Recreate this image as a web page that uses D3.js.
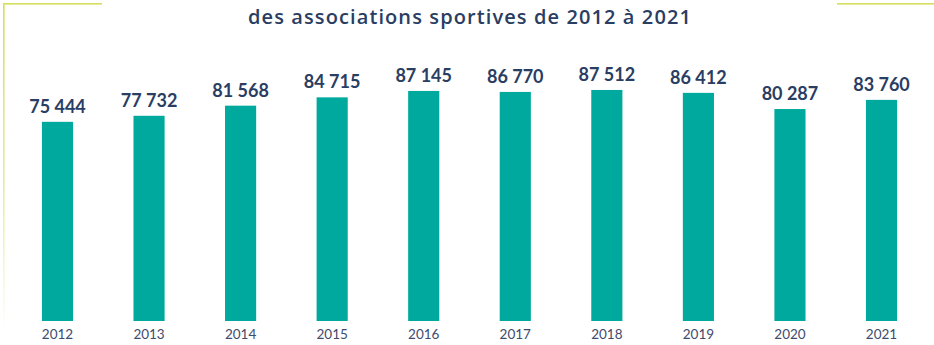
<!DOCTYPE html>
<html>
<head>
<meta charset="utf-8">
<script src="https://cdn.jsdelivr.net/npm/d3@7"></script>
<style>
  html, body { margin: 0; padding: 0; background: #fff; }
  svg { display: block; }
</style>
</head>
<body>
<svg id="chart" width="934" height="345"></svg>
<script>
// Nombre d'associations sportives par année
const years = ["2012", "2013", "2014", "2015", "2016", "2017", "2018", "2019", "2020", "2021"];
const associations = [75444, 77732, 81568, 84715, 87145, 86770, 87512, 86412, 80287, 83760];
const titleText = "des associations sportives de 2012 à 2021";

const W = 934, H = 345;
const svg = d3.select("#chart");

const navy = "#2a3d62";
const teal = "#00a99d";
const lime = "#d5df5c";

// Cadre décoratif : coins en haut à gauche et à droite
const defs = svg.append("defs");
const grad = defs.append("linearGradient")
  .attr("id", "fadeDown").attr("x1", 0).attr("y1", 0).attr("x2", 0).attr("y2", 1);
grad.append("stop").attr("offset", "0%").attr("stop-color", lime).attr("stop-opacity", 1);
grad.append("stop").attr("offset", "55%").attr("stop-color", lime).attr("stop-opacity", 0.6);
grad.append("stop").attr("offset", "100%").attr("stop-color", lime).attr("stop-opacity", 0);

svg.append("rect").attr("x", 3).attr("y", 3).attr("width", 99).attr("height", 1.6).attr("fill", lime);
svg.append("rect").attr("x", 3).attr("y", 3).attr("width", 1.6).attr("height", 330).attr("fill", "url(#fadeDown)");
svg.append("rect").attr("x", 837).attr("y", 3).attr("width", 97).attr("height", 1.6).attr("fill", lime);

// Titre
svg.append("text")
  .attr("x", 470).attr("y", 24)
  .attr("text-anchor", "middle")
  .attr("font-family", "'Open Sans', Lato, sans-serif")
  .attr("font-weight", 600)
  .attr("font-size", 20)
  .attr("letter-spacing", 1.1)
  .attr("fill", navy)
  .text(titleText);

// Échelles
const x = d3.scaleBand()
  .domain(years)
  .range([11.7, 927.3])
  .paddingInner(0.66)
  .paddingOuter(0.33);

const y = d3.scaleLinear()
  .domain([0, 100000])
  .range([321, 57]);

const data = years.map((yr, i) => ({ year: yr, value: associations[i] }));

// Barres
svg.append("g").selectAll("rect")
  .data(data)
  .join("rect")
  .attr("x", d => x(d.year))
  .attr("y", d => y(d.value))
  .attr("width", x.bandwidth())
  .attr("height", d => y(0) - y(d.value))
  .attr("fill", teal);

// Étiquettes de valeur
const fmt = v => d3.format(",")(v).replace(/,/g, " ");
svg.append("g").selectAll("text")
  .data(data)
  .join("text")
  .attr("x", d => x(d.year) + x.bandwidth() / 2)
  .attr("y", d => y(d.value) - 9)
  .attr("text-anchor", "middle")
  .attr("font-family", "Lato, 'Open Sans', sans-serif")
  .attr("font-weight", 700)
  .attr("font-size", 18)
  .attr("fill", navy)
  .text(d => fmt(d.value));

// Axe des années
const axis = svg.append("g")
  .attr("transform", `translate(0, ${y(0)})`)
  .call(d3.axisBottom(x).tickSize(0).tickPadding(8));
axis.select(".domain").remove();
axis.selectAll("text")
  .attr("font-family", "Lato, 'Open Sans', sans-serif")
  .attr("font-size", 13.5)
  .attr("fill", "#3e4b6c");
</script>
</body>
</html>
